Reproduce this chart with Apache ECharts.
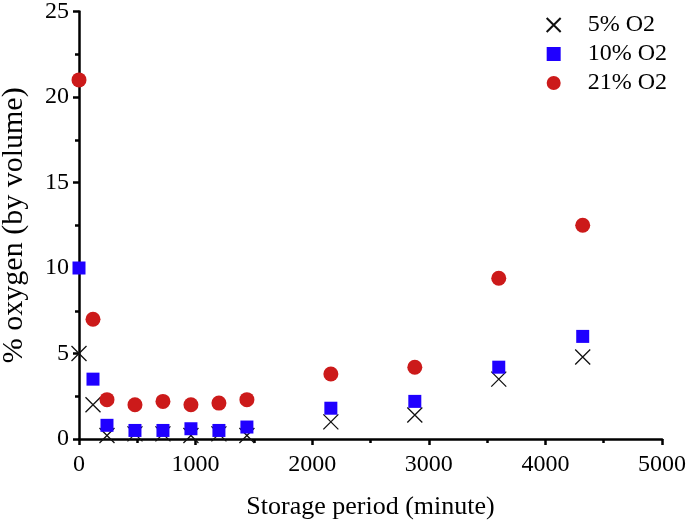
<!DOCTYPE html>
<html>
<head>
<meta charset="utf-8">
<script src="https://cdn.jsdelivr.net/npm/echarts@6/dist/echarts.min.js"></script>
<style>
  html, body { margin: 0; padding: 0; background: #fff; }
  #chart { width: 688px; height: 523px; }
</style>
</head>
<body>
<div id="chart"></div>
<script>
// storage time (minutes) for each sample
const minutes = [0, 120, 240, 480, 720, 960, 1200, 1440, 2160, 2880, 3600, 4320]
const o2Five = [5.0, 2.0, 0.2, 0.3, 0.3, 0.2, 0.3, 0.2, 1.0, 1.4, 3.5, 4.8]
const o2Ten = [10.0, 3.5, 0.8, 0.5, 0.5, 0.6, 0.5, 0.7, 1.8, 2.2, 4.2, 6.0]
const o2Air = [21.0, 7.0, 2.3, 2.0, 2.2, 2.0, 2.1, 2.3, 3.8, 4.2, 9.4, 12.5]
const seriesNames = ['5% O2', '10% O2', '21% O2']

const font = 'Liberation Serif'
const crossPath = 'path://M0,0L10,10M10,0L0,10'

const pairs = vals => minutes.map((m, i) => [m, vals[i]])

const chart = echarts.init(document.getElementById('chart'))

const axisCommon = {
  axisLine: { show: true, onZero: false, lineStyle: { color: '#000', width: 2.5 } },
  axisTick: { show: true, inside: false, length: 6, lineStyle: { color: '#000', width: 2.5 } },
  minorTick: { show: true, splitNumber: 2, length: 4, lineStyle: { color: '#000', width: 2.5 } },
  splitLine: { show: false },
  axisLabel: { color: '#000', fontFamily: font, fontSize: 24, formatter: v => String(v) },
  nameTextStyle: { color: '#000', fontFamily: font, fontSize: 26 }
}

chart.setOption({
  backgroundColor: '#fff',
  animation: false,
  grid: { left: 79, right: 26, top: 11.5, bottom: 84, containLabel: false, outerBoundsMode: 'none' },
  legend: {
    orient: 'vertical',
    right: 16,
    top: 8,
    itemGap: 5,
    itemWidth: 14,
    itemHeight: 14,
    textStyle: { color: '#000', fontFamily: font, fontSize: 24, padding: [0, 0, 0, 22] },
    data: seriesNames
  },
  xAxis: {
    ...axisCommon,
    type: 'value',
    min: 0,
    max: 5000,
    interval: 1000,
    name: 'Storage period (minute)',
    nameLocation: 'middle',
    nameGap: 55,
    axisLabel: { ...axisCommon.axisLabel, margin: 14 }
  },
  yAxis: {
    ...axisCommon,
    type: 'value',
    min: 0,
    max: 25,
    interval: 5,
    name: '% oxygen (by volume)',
    nameLocation: 'middle',
    nameGap: 50,
    nameTextStyle: { ...axisCommon.nameTextStyle, fontSize: 30 },
    axisLabel: { ...axisCommon.axisLabel, margin: 10 }
  },
  series: [
    {
      name: seriesNames[0],
      type: 'scatter',
      data: pairs(o2Five),
      symbol: crossPath,
      symbolSize: 15,
      itemStyle: { color: 'transparent', borderColor: '#111', borderWidth: 1.3, opacity: 1 }
    },
    {
      name: seriesNames[1],
      type: 'scatter',
      data: pairs(o2Ten),
      symbol: 'rect',
      symbolSize: 13,
      itemStyle: { color: '#1f00ff', opacity: 1 }
    },
    {
      name: seriesNames[2],
      type: 'scatter',
      data: pairs(o2Air),
      symbol: 'circle',
      symbolSize: 15,
      itemStyle: { color: '#cc1a1a', opacity: 1 }
    }
  ]
})
</script>
</body>
</html>
